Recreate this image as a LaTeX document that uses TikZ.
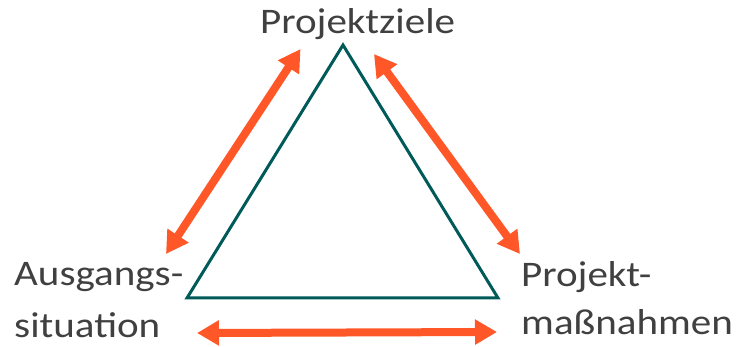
\documentclass[tikz,border=0pt]{standalone}
\usepackage{fontspec}
\setmainfont{Carlito}
\usetikzlibrary{arrows.meta}
\definecolor{teal1}{HTML}{005A5A}
\definecolor{orng}{HTML}{FF5727}
\definecolor{txt}{HTML}{404040}
\tikzset{
  lbl/.style={inner sep=0pt, text=txt, font=\fontsize{36}{53}\selectfont, align=left, xscale=1.14, transform shape},
  dbl/.style={draw=orng, line width=8pt, {Triangle[width=24pt,length=22pt]}-{Triangle[width=24pt,length=22pt]}},
  tri/.style={draw=teal1, line width=3pt}
}
\begin{document}
\begin{tikzpicture}[x=1pt,y=-1pt]
\useasboundingbox (0,0) rectangle (740,347);
\coordinate (A) at (343,45);
\coordinate (B) at (187,298);
\coordinate (C) at (498,298);
\draw[tri] (A) -- (B) -- (C) -- cycle;
\node[lbl, anchor=base west] (ziele) at (260,34) {Projektziele};
\node[lbl, anchor=base west] (aus1) at (14,286) {Ausgangs-};
\node[lbl, anchor=base west] (aus2) at (14,338) {situation};
\node[lbl, anchor=base west] (mass1) at (521,287) {Projekt-};
\node[lbl, anchor=base west] (mass2) at (521,335) {maßnahmen};
\coordinate (l1) at (300.5,49);
\coordinate (l2) at (166,254);
\coordinate (r1) at (374,54);
\coordinate (r2) at (520,254);
\coordinate (b1) at (197,333);
\coordinate (b2) at (497,332);
\draw[dbl] (l2) -- (l1);
\draw[dbl] (r1) -- (r2);
\draw[dbl] (b1) -- (b2);
\end{tikzpicture}
\end{document}
